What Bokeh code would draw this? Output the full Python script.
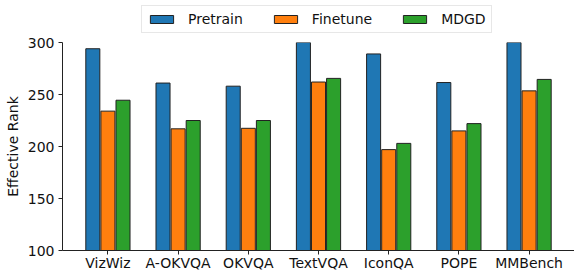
import numpy as np
from bokeh.plotting import figure
from bokeh.layouts import column
from bokeh.models import Range1d, FixedTicker, Legend, LegendItem
from bokeh.embed import file_html
from bokeh.resources import INLINE

categories = ["VizWiz", "A-OKVQA", "OKVQA", "TextVQA", "IconQA", "POPE", "MMBench"]
series_names = ["Pretrain", "Finetune", "MDGD"]
pretrain = [294, 261, 258, 310, 289, 261.5, 308]
finetune = [234, 217, 217.5, 262, 197, 215, 253.5]
mdgd = [244.5, 225, 225, 265.5, 203, 222, 264.5]
y_ticks = [100, 150, 200, 250, 300]

colors = ["#1f77b4", "#ff7f0e", "#2ca02c"]
FONT = "DejaVu Sans"
FS = "14px"
EDGE = "#222222"

# main chart
p = figure(width=574, height=239, output_backend="svg", toolbar_location=None,
           x_range=Range1d(-0.647, 6.647), y_range=Range1d(100, 300),
           min_border_left=62, min_border_right=0, min_border_top=8, min_border_bottom=23)
p.outline_line_color = None
p.xgrid.visible = False
p.ygrid.visible = False

x = np.arange(len(categories))
width = 0.2
offsets = [-0.215, 0.0, 0.215]
for vals, off, col in zip([pretrain, finetune, mdgd], offsets, colors):
    p.vbar(x=x + off, top=vals, bottom=0, width=width, fill_color=col,
           line_color=EDGE, line_width=1)

p.xaxis.ticker = FixedTicker(ticks=list(x))
p.xaxis.major_label_overrides = {int(i): c for i, c in enumerate(categories)}
p.yaxis.ticker = FixedTicker(ticks=y_ticks)
p.yaxis.axis_label = "Effective Rank"

for ax in (p.xaxis[0], p.yaxis[0]):
    ax.major_label_text_font = FONT
    ax.major_label_text_font_size = FS
    ax.major_label_text_color = "#111111"
    ax.axis_label_text_font = FONT
    ax.axis_label_text_font_size = FS
    ax.axis_label_text_font_style = "normal"
    ax.axis_label_text_color = "#111111"
    ax.axis_line_color = EDGE
    ax.major_tick_line_color = EDGE
    ax.major_tick_out = 4
    ax.major_tick_in = 0
    ax.minor_tick_line_color = None
p.xaxis.major_label_standoff = 0
p.yaxis.major_label_standoff = 4
p.yaxis.axis_label_standoff = 4

# legend strip above the chart (frames are aligned with the chart below)
lg = figure(width=574, height=34, output_backend="svg", toolbar_location=None,
            x_range=Range1d(0, 1), y_range=Range1d(0, 1),
            min_border_left=0, min_border_right=0, min_border_top=0, min_border_bottom=0)
lg.outline_line_color = None
lg.axis.visible = False
lg.xgrid.visible = False
lg.ygrid.visible = False
items = []
for col, name in zip(colors, series_names):
    # off-screen proxy glyph, only used for the legend swatch
    r = lg.vbar(x=[-5], top=[0], width=0.1, fill_color=col, line_color=EDGE, line_width=1)
    items.append(LegendItem(label=name, renderers=[r]))

legend = Legend(items=items, orientation="horizontal", location=(79, 1))
legend.glyph_width = 29
legend.glyph_height = 10
legend.label_standoff = 12
legend.spacing = 28
legend.padding = 5
legend.margin = 0
legend.label_text_font = FONT
legend.label_text_font_size = FS
legend.label_text_color = "#111111"
legend.border_line_color = "#d0d0d0"
legend.border_line_width = 1
legend.background_fill_alpha = 1
lg.add_layout(legend, "center")

layout = column(lg, p, spacing=0)
open("out.html", "w").write(file_html(layout, INLINE))
